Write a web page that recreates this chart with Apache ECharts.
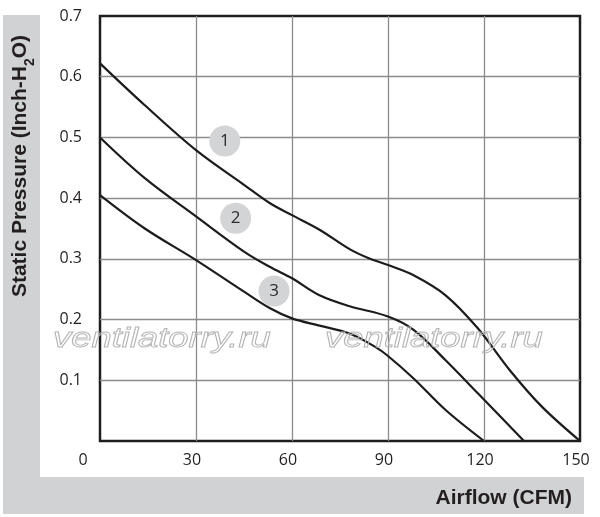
<!DOCTYPE html>
<html>
<head>
<meta charset="utf-8">
<script src="https://cdn.jsdelivr.net/npm/echarts@6/dist/echarts.min.js"></script>
<style>
  html, body { margin: 0; padding: 0; background: #ffffff; }
  #chart { width: 600px; height: 517px; }
</style>
</head>
<body>
<div id="chart"></div>
<script>
// axis ticks
var xTicks = [0, 30, 60, 90, 120, 150];
var yTicks = [0, 0.1, 0.2, 0.3, 0.4, 0.5, 0.6, 0.7];

// curves: [airflow CFM, pressure inch-H2O]
var curve1 = [[0, 0.622], [14, 0.553], [30, 0.479], [45, 0.422], [53, 0.392], [60, 0.372],
    [68.6, 0.348], [78, 0.316], [84, 0.301], [90, 0.29], [98, 0.273], [108, 0.24],
    [118, 0.186], [128, 0.117], [138, 0.057], [150, 0]];
var curve2 = [[0, 0.5], [14, 0.433], [30, 0.37], [45, 0.312], [53, 0.287], [60, 0.268],
    [68.6, 0.24], [78, 0.222], [90, 0.205], [98, 0.183], [108, 0.133], [118, 0.079], [132.5, 0]];
var curve3 = [[0, 0.405], [14, 0.35], [30, 0.298], [45, 0.246], [53, 0.219], [60, 0.202],
    [68.6, 0.19], [78, 0.177], [86, 0.155], [90, 0.14], [98, 0.103], [108, 0.051], [120, 0]];

// numbered badges next to the curves
var badges = [[39, 0.494, '1'], [42.4, 0.367, '2'], [54.4, 0.247, '3']];

var dom = document.getElementById('chart');
var myChart = echarts.init(dom);

function curve(d) {
    return {
        type: 'line',
        data: d,
        smooth: 0.35,
        showSymbol: false,
        lineStyle: { color: '#1c1c1c', width: 2.2 },
        z: 3
    };
}

var option = {
    backgroundColor: '#ffffff',
    animation: false,
    grid: {
        left: 100, right: 20, top: 16, bottom: 76,
        show: true,
        borderColor: '#1e1e1e',
        borderWidth: 2.5
    },
    xAxis: {
        type: 'value',
        min: xTicks[0],
        max: xTicks[xTicks.length - 1],
        interval: 30,
        axisLine: { show: false },
        axisTick: { show: false },
        splitLine: {
            show: true, showMinLine: false, showMaxLine: false,
            lineStyle: { color: '#8c8c8c', width: 1.3 }
        },
        axisLabel: {
            margin: 11,
            formatter: function (v) {
                return v === 0 ? '{z|0}' : '{n|' + v + '}';
            },
            rich: {
                z: { fontSize: 16, color: '#231f20', fontFamily: 'Open Sans', padding: [0, 34, 0, 0] },
                n: { fontSize: 16, color: '#231f20', fontFamily: 'Open Sans', padding: [0, 8, 0, 0] }
            }
        }
    },
    yAxis: {
        type: 'value',
        min: yTicks[0],
        max: yTicks[yTicks.length - 1],
        interval: 0.1,
        axisLine: { show: false },
        axisTick: { show: false },
        splitLine: {
            show: true, showMinLine: false, showMaxLine: false,
            lineStyle: { color: '#8c8c8c', width: 1.3 }
        },
        axisLabel: {
            margin: 18,
            fontSize: 16,
            color: '#231f20',
            fontFamily: 'Open Sans',
            formatter: function (v) { return v === 0 ? '' : v.toFixed(1); }
        }
    },
    graphic: [
        { type: 'rect', shape: { x: 3, y: 15, width: 37, height: 499 }, style: { fill: '#d1d2d4' }, z: -10 },
        { type: 'rect', shape: { x: 3, y: 477, width: 581, height: 37 }, style: { fill: '#d1d2d4' }, z: -10 },
        {
            type: 'text', x: 572, y: 498,
            style: {
                text: 'Airflow (CFM)', align: 'right', verticalAlign: 'middle',
                fontSize: 21, fontWeight: 'bold', fontFamily: 'Liberation Sans', fill: '#231f20'
            }
        },
        {
            type: 'text', x: 20, y: 166, rotation: Math.PI / 2,
            style: {
                text: '{a|Static Pressure (Inch-H}{s|2}{a|O)}',
                align: 'center', verticalAlign: 'middle',
                fill: '#231f20',
                rich: {
                    a: { fontSize: 21, fontWeight: 'bold', fontFamily: 'Liberation Sans', lineHeight: 34, verticalAlign: 'middle', fill: '#231f20' },
                    s: { fontSize: 14, fontWeight: 'bold', fontFamily: 'Liberation Sans', lineHeight: 14, verticalAlign: 'bottom', fill: '#231f20' }
                }
            }
        },
        {
            type: 'text', x: 53, y: 339, scaleX: 1.3, z: 10,
            style: {
                text: 'ventilatorry.ru', align: 'left', verticalAlign: 'middle',
                fontSize: 28, fontStyle: 'italic', fontFamily: 'Liberation Sans',
                fill: 'rgba(255,255,255,0)', stroke: '#b4b4b4', lineWidth: 0.9
            }
        },
        {
            type: 'text', x: 325, y: 339, scaleX: 1.3, z: 10,
            style: {
                text: 'ventilatorry.ru', align: 'left', verticalAlign: 'middle',
                fontSize: 28, fontStyle: 'italic', fontFamily: 'Liberation Sans',
                fill: 'rgba(255,255,255,0)', stroke: '#b4b4b4', lineWidth: 0.9
            }
        }
    ],
    series: [
        curve(curve1),
        curve(curve2),
        curve(curve3),
        {
            type: 'scatter',
            data: badges,
            symbolSize: 31,
            itemStyle: { color: '#d3d4d6', opacity: 1 },
            label: {
                show: true, position: 'inside',
                formatter: function (p) { return p.value[2]; },
                fontSize: 17, color: '#2b2b2b', fontFamily: 'Open Sans'
            },
            z: 4
        }
    ]
};

if (option && typeof option === 'object') {
    myChart.setOption(option, true);
}
</script>
</body>
</html>
